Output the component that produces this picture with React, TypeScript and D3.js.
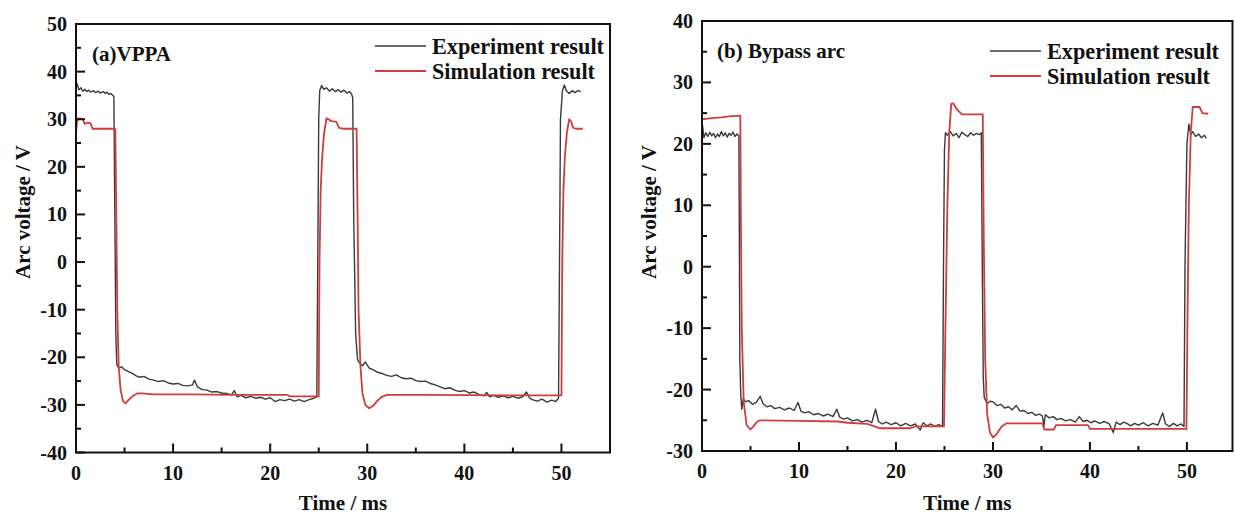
import React from 'react';
import * as d3 from 'd3';

type P = [number, number];

const timeTicks = [0, 10, 20, 30, 40, 50];
const timeMinor = [5, 15, 25, 35, 45];
const voltTicksA = [50, 40, 30, 20, 10, 0, -10, -20, -30, -40];
const voltMinorA = [45, 35, 25, 15, 5, -5, -15, -25, -35];
const voltTicksB = [40, 30, 20, 10, 0, -10, -20, -30];
const voltMinorB = [35, 25, 15, 5, -5, -15, -25];

const legendLabels = ['Experiment result', 'Simulation result'];

// Panel (a) VPPA — experiment
const expA: P[] = [
  [0, 36.5], [0.1, 37.5], [0.3, 36.2], [0.5, 36.6], [0.7, 35.9], [0.9, 36.3], [1.1, 35.8], [1.3, 36.1],
  [1.5, 35.7], [1.8, 36.0], [2.0, 35.6], [2.3, 35.9], [2.5, 35.5], [2.8, 35.8], [3.0, 35.4], [3.2, 35.7],
  [3.4, 35.2], [3.6, 35.4], [3.8, 35.0], [3.9, 34.8], [4.0, 10], [4.1, -15], [4.2, -21.5], [4.4, -22.3],
  [4.7, -22.0], [5.0, -22.6], [5.4, -23.0], [5.8, -23.4], [6.2, -23.9], [6.6, -24.2], [7.0, -24.0],
  [7.5, -24.6], [8.0, -24.8], [8.5, -25.1], [9.0, -24.9], [9.5, -25.4], [10.0, -25.6], [10.5, -25.5],
  [11.0, -25.9], [11.5, -26.0], [12.0, -25.8], [12.2, -24.8], [12.5, -26.2], [13.0, -26.8], [13.5, -26.9],
  [14.0, -27.3], [14.5, -27.2], [15.0, -27.5], [15.5, -27.6], [16.0, -27.9], [16.3, -27.0], [16.6, -28.3],
  [17.0, -28.0], [17.5, -28.5], [18.0, -28.2], [18.5, -28.6], [19.0, -28.4], [19.5, -28.8], [20.0, -28.5],
  [20.5, -29.3], [21.0, -28.9], [21.5, -29.1], [22.0, -28.8], [22.5, -29.2], [23.0, -28.9], [23.5, -29.3],
  [24.0, -28.9], [24.5, -28.6], [24.8, -28.3], [24.9, 0], [25.0, 30], [25.1, 36], [25.3, 37.1],
  [25.5, 36.3], [25.8, 36.6], [26.1, 35.9], [26.4, 36.4], [26.7, 35.8], [27.0, 36.2], [27.3, 35.7],
  [27.6, 36.1], [27.9, 35.5], [28.2, 35.8], [28.4, 35.2], [28.5, 34.5], [28.6, 10], [28.8, -15],
  [29.0, -20.5], [29.2, -21.2], [29.5, -21.8], [29.8, -21.0], [30.2, -22.3], [30.6, -22.6], [31.0, -23.1],
  [31.5, -23.4], [32.0, -23.8], [32.5, -24.0], [33.0, -23.7], [33.5, -24.3], [34.0, -24.5], [34.5, -24.4],
  [35.0, -24.9], [35.5, -25.1], [36.0, -25.0], [36.5, -25.5], [37.0, -25.8], [37.5, -26.2], [38.0, -26.6],
  [38.5, -26.4], [39.0, -26.9], [39.5, -27.2], [40.0, -27.0], [40.5, -27.5], [41.0, -27.3], [41.5, -27.8],
  [42.0, -28.1], [42.3, -27.4], [42.6, -28.3], [43.0, -28.0], [43.5, -28.4], [44.0, -28.1], [44.5, -28.5],
  [45.0, -28.2], [45.5, -28.6], [46.0, -28.3], [46.4, -27.3], [46.7, -28.5], [47.0, -28.9], [47.5, -29.2],
  [48.0, -28.8], [48.5, -29.4], [49.0, -29.0], [49.4, -29.3], [49.7, -28.6], [49.8, 0], [49.9, 30],
  [50.1, 36], [50.3, 37.2], [50.5, 36.0], [50.8, 35.4], [51.1, 36.0], [51.4, 35.6], [51.7, 36.0], [52.0, 35.8],
];

// Panel (a) VPPA — simulation
const simA: P[] = [
  [0, 27], [0.1, 29.5], [0.3, 30.2], [0.7, 30.0], [0.9, 29.0], [1.2, 29.3], [1.5, 29.2], [1.7, 28.0],
  [2.5, 28.0], [3.5, 28.0], [4.05, 28.0], [4.15, 10], [4.25, -10], [4.4, -22], [4.6, -27], [4.85, -29.2],
  [5.1, -29.7], [5.4, -29.0], [5.8, -28.2], [6.3, -27.6], [6.8, -27.6], [8, -27.8], [12, -27.8], [16, -27.9],
  [21.8, -27.9], [22, -28.2], [25.0, -28.2], [25.08, 0], [25.2, 15], [25.35, 22], [25.55, 27], [25.8, 30.2],
  [26.0, 30.0], [26.3, 29.6], [26.8, 29.5], [27.1, 28.2], [27.5, 28.0], [28.9, 28.0], [29.0, 10],
  [29.1, -10], [29.3, -22], [29.5, -27.5], [29.8, -30], [30.2, -30.7], [30.6, -30.2], [31.0, -29.2],
  [31.5, -28.3], [32.0, -27.9], [36, -27.9], [45, -28.0], [50.0, -28.0], [50.08, 0], [50.2, 15],
  [50.35, 22], [50.55, 27], [50.8, 30.0], [51.0, 29.5], [51.2, 28.2], [51.5, 28.0], [52.2, 28.0],
];

// Panel (b) Bypass arc — experiment
const expB: P[] = [
  [0, 23.5], [0.1, 22.5], [0.2, 21.0], [0.4, 21.8], [0.6, 21.2], [0.8, 21.9], [1.0, 21.3], [1.2, 21.7],
  [1.4, 21.0], [1.6, 21.6], [1.8, 21.2], [2.0, 22.0], [2.2, 21.3], [2.4, 21.8], [2.6, 21.1], [2.8, 21.7],
  [3.0, 21.4], [3.2, 21.9], [3.4, 21.2], [3.6, 21.6], [3.8, 21.3], [3.85, 5], [3.9, -15], [4.0, -21],
  [4.1, -23.2], [4.25, -21.5], [4.5, -22.0], [4.8, -21.8], [5.2, -22.4], [5.6, -22.1], [6.0, -21.1],
  [6.3, -22.3], [6.7, -22.8], [7.1, -22.6], [7.5, -23.1], [8.0, -22.9], [8.5, -23.3], [9.0, -23.0],
  [9.5, -23.4], [9.9, -22.1], [10.2, -23.5], [10.6, -23.8], [11.0, -23.6], [11.5, -24.1], [12.0, -23.9],
  [12.5, -24.3], [13.0, -24.0], [13.5, -24.4], [13.9, -23.2], [14.2, -24.5], [14.6, -24.8], [15.0, -24.6],
  [15.5, -25.1], [16.0, -24.9], [16.5, -25.3], [17.0, -25.0], [17.5, -25.4], [17.9, -23.2], [18.2, -25.2],
  [18.6, -25.6], [19.0, -25.3], [19.5, -25.7], [20.0, -25.4], [20.5, -25.9], [21.0, -25.5], [21.5, -25.9],
  [22.0, -25.6], [22.5, -26.6], [22.8, -25.4], [23.2, -25.9], [23.6, -25.6], [24.0, -26.0], [24.4, -25.7],
  [24.8, -26.0], [24.9, 0], [25.0, 19], [25.1, 21.8], [25.3, 21.4], [25.6, 22.0], [25.9, 21.3],
  [26.2, 21.7], [26.5, 21.0], [26.8, 21.9], [27.1, 21.5], [27.4, 21.2], [27.7, 21.8], [28.0, 21.4],
  [28.3, 21.7], [28.6, 21.5], [28.8, 21.8], [28.9, 0], [29.0, -18], [29.1, -21.3], [29.4, -22.3],
  [29.7, -21.9], [30.0, -22.0], [30.4, -22.6], [30.8, -22.4], [31.2, -23.0], [31.6, -22.8], [32.0, -23.3],
  [32.4, -22.6], [32.8, -23.5], [33.2, -23.4], [33.6, -23.9], [34.0, -23.7], [34.4, -24.2], [34.8, -24.0],
  [35.1, -24.3], [35.25, -26.0], [35.4, -24.1], [35.8, -24.6], [36.2, -24.4], [36.6, -24.9], [37.0, -24.7],
  [37.5, -25.1], [38.0, -24.9], [38.5, -25.3], [38.9, -24.4], [39.3, -25.2], [39.7, -25.0], [40.1, -25.4],
  [40.5, -25.1], [41.0, -25.5], [41.5, -25.2], [42.0, -25.6], [42.4, -27.0], [42.7, -25.3], [43.1, -25.7],
  [43.5, -25.3], [43.8, -25.5], [44.2, -25.9], [44.6, -25.5], [45.0, -25.8], [45.5, -25.4], [46.0, -25.9],
  [46.5, -25.5], [47.0, -25.8], [47.5, -23.8], [47.8, -25.6], [48.2, -26.0], [48.6, -25.5], [49.0, -25.9],
  [49.4, -25.6], [49.7, -26.0], [49.8, 0], [50.0, 20], [50.2, 23.2], [50.4, 21.5], [50.6, 22.0],
  [50.9, 21.2], [51.2, 21.6], [51.5, 21.0], [51.8, 21.4], [52.0, 20.9],
];

// Panel (b) Bypass arc — simulation
const simB: P[] = [
  [0, 24.0], [1, 24.2], [2, 24.3], [3, 24.5], [3.95, 24.6], [4.0, 10], [4.1, -10], [4.3, -22],
  [4.6, -25.8], [5.0, -26.5], [5.3, -26.0], [5.7, -25.2], [6.0, -25.0], [10, -25.1], [14, -25.2],
  [15, -25.4], [17, -25.6], [17.8, -26.0], [18.3, -26.3], [21.5, -26.3], [22, -26.0], [24.95, -26.0],
  [25.1, -10], [25.3, 10], [25.5, 22], [25.7, 26.5], [25.9, 26.6], [26.3, 25.6], [26.8, 24.8],
  [27.5, 24.8], [28.95, 24.8], [29.05, 5], [29.2, -15], [29.4, -24], [29.7, -27.0], [30.0, -27.8],
  [30.4, -27.2], [30.9, -26.0], [31.4, -25.5], [35.1, -25.5], [35.3, -26.5], [36.3, -26.5], [36.5, -25.8],
  [39.8, -25.8], [40.0, -26.4], [49.95, -26.4], [50.05, -10], [50.2, 10], [50.4, 22], [50.6, 26.0],
  [51.3, 26.0], [51.6, 25.0], [52.2, 24.9],
];

const FONT = '"Liberation Serif", "Times New Roman", serif';
const BLACK = '#3a3a3a';
const RED = '#d23c3c';

interface PanelProps {
  x0: number; x1: number; y0: number; y1: number;
  xMax: number; yDomain: [number, number];
  yTicks: number[]; yMinor: number[];
  exp: P[]; sim: P[];
  title: string; titleX: number; titleY: number;
  legX: number; legY: number;
  yLabelX: number; yLabelY: number;
}

function Panel(p: PanelProps) {
  const x = d3.scaleLinear().domain([0, p.xMax]).range([p.x0, p.x1]);
  const y = d3.scaleLinear().domain(p.yDomain).range([p.y1, p.y0]);
  const line = d3.line<P>().x(d => x(d[0])).y(d => y(d[1]));
  const cx = (p.x0 + p.x1) / 2;
  return (
    <g>
      <path d={line(p.exp) || ''} fill="none" stroke={BLACK} strokeWidth={1.4} strokeLinejoin="round" />
      <path d={line(p.sim) || ''} fill="none" stroke={RED} strokeWidth={1.8} strokeLinejoin="round" />
      <rect x={p.x0} y={p.y0} width={p.x1 - p.x0} height={p.y1 - p.y0} fill="none" stroke="#111" strokeWidth={2} />
      {p.yTicks.map(v => (
        <g key={'yt' + v}>
          <line x1={p.x0} x2={p.x0 + 9} y1={y(v)} y2={y(v)} stroke="#111" strokeWidth={2} />
          <text x={p.x0 - 9} y={y(v)} dy="0.35em" textAnchor="end" fontFamily={FONT} fontWeight="bold" fontSize={20} fill="#111">{v}</text>
        </g>
      ))}
      {p.yMinor.map(v => (
        <line key={'ym' + v} x1={p.x0} x2={p.x0 + 5} y1={y(v)} y2={y(v)} stroke="#111" strokeWidth={2} />
      ))}
      {timeTicks.map(v => (
        <g key={'xt' + v}>
          <line x1={x(v)} x2={x(v)} y1={p.y1} y2={p.y1 - 9} stroke="#111" strokeWidth={2} />
          <text x={x(v)} y={p.y1 + 27} textAnchor="middle" fontFamily={FONT} fontWeight="bold" fontSize={20} fill="#111">{v}</text>
        </g>
      ))}
      {timeMinor.map(v => (
        <line key={'xm' + v} x1={x(v)} x2={x(v)} y1={p.y1} y2={p.y1 - 5} stroke="#111" strokeWidth={2} />
      ))}
      <text x={cx} y={510} textAnchor="middle" fontFamily={FONT} fontWeight="bold" fontSize={21} fill="#111">Time / ms</text>
      <text transform={`translate(${p.yLabelX},${p.yLabelY}) rotate(-90)`} textAnchor="middle" fontFamily={FONT} fontWeight="bold" fontSize={21} fill="#111">Arc voltage / V</text>
      <text x={p.titleX} y={p.titleY} fontFamily={FONT} fontWeight="bold" fontSize={21} fill="#111">{p.title}</text>
      {legendLabels.map((lab, i) => (
        <g key={lab}>
          <line x1={p.legX} x2={p.legX + 51} y1={p.legY + i * 25} y2={p.legY + i * 25} stroke={i === 0 ? BLACK : RED} strokeWidth={i === 0 ? 1.5 : 1.8} />
          <text x={p.legX + 57} y={p.legY + i * 25 + 8} fontFamily={FONT} fontWeight="bold" fontSize={23} textLength={i === 0 ? 172 : 163} lengthAdjust="spacingAndGlyphs" fill="#111">{lab}</text>
        </g>
      ))}
    </g>
  );
}

export default function App() {
  return (
    <svg width={1234} height={516} style={{ position: 'absolute', left: 0, top: 0, background: '#fff' }}>
      <rect x={0} y={0} width={1234} height={516} fill="#fff" />
      <Panel x0={76} x1={610} y0={24} y1={452.5} xMax={55} yDomain={[-40, 50]}
        yTicks={voltTicksA} yMinor={voltMinorA} exp={expA} sim={simA}
        title="(a)VPPA" titleX={92} titleY={61} legX={375} legY={46} yLabelX={30} yLabelY={212} />
      <Panel x0={702} x1={1232.5} y0={21} y1={451} xMax={54.7} yDomain={[-30, 40]}
        yTicks={voltTicksB} yMinor={voltMinorB} exp={expB} sim={simB}
        title="(b) Bypass arc" titleX={717} titleY={58} legX={990} legY={51} yLabelX={656} yLabelY={212} />
    </svg>
  );
}
